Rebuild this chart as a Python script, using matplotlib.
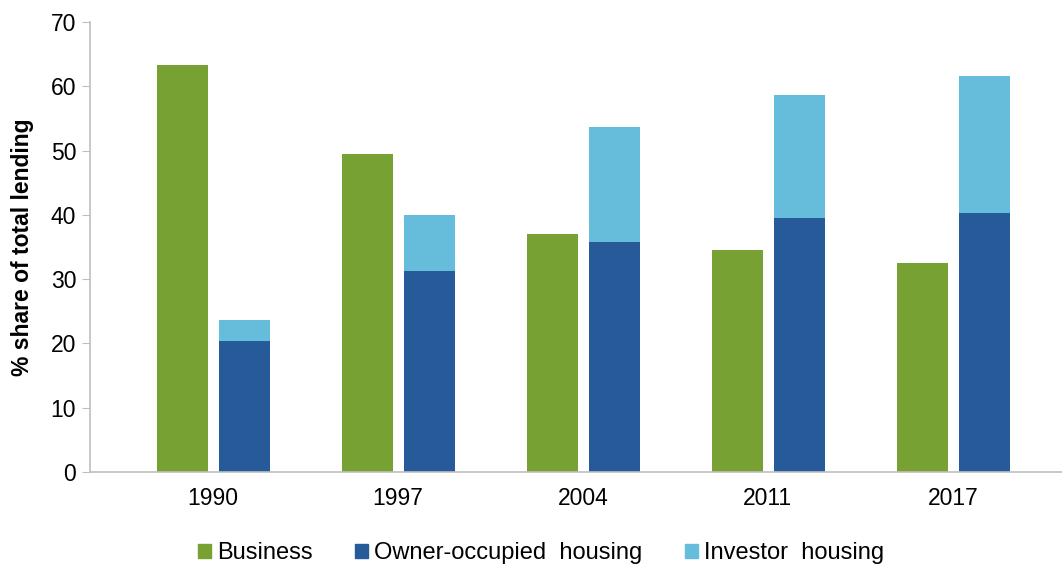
import matplotlib
matplotlib.use("Agg")
import matplotlib.pyplot as plt
from matplotlib.patches import Patch
import numpy as np

years = ["1990", "1997", "2004", "2011", "2017"]
business = [63.3, 49.5, 37.0, 34.5, 32.5]
owner_occupied = [20.4, 31.3, 35.8, 39.5, 40.3]
investor = [3.2, 8.7, 17.9, 19.1, 21.3]

plt.rcParams['font.family'] = ['Liberation Sans', 'DejaVu Sans']

c_bus = "#77A132"
c_own = "#265A99"
c_inv = "#66BCDB"

W, H = 1062, 566
fig = plt.figure(figsize=(W/100, H/100), dpi=100)
ax = fig.add_axes([90/W, (H-472)/H, (1062-90)/W, (472-22)/H])

x = np.arange(len(years))
bw = 0.276
ax.bar(x - 0.165, business, bw, color=c_bus, label="Business")
ax.bar(x + 0.17, owner_occupied, bw, color=c_own, label="Owner-occupied  housing")
ax.bar(x + 0.17, investor, bw, bottom=owner_occupied, color=c_inv, label="Investor  housing")

ax.set_xlim(-0.665, 4.59)
ax.set_ylim(0, 70)
ax.set_yticks(range(0, 71, 10))
ax.set_xticks(x)
ax.set_xticklabels(years)
ax.tick_params(axis='y', labelsize=16.5, length=6, color="#BFBFBF", pad=4)
ax.tick_params(axis='x', labelsize=16.5, length=0, pad=11)
for s in ["top", "right"]:
    ax.spines[s].set_visible(False)
for s in ["left", "bottom"]:
    ax.spines[s].set_color("#BFBFBF")
    ax.spines[s].set_linewidth(1.2)
ax.set_ylabel("% share of total lending", fontsize=16.5, fontweight="bold", labelpad=12)

handles = [Patch(color=c_bus), Patch(color=c_own), Patch(color=c_inv)]
labels = ["Business", "Owner-occupied  housing", "Investor  housing"]
fig.legend(handles, labels, loc="center", bbox_to_anchor=(541/W, 1-553/H), ncol=3,
           frameon=False, fontsize=17, handlelength=0.55, handleheight=0.55,
           handletextpad=0.25, columnspacing=1.8)

fig.savefig("out.png", dpi=100)
